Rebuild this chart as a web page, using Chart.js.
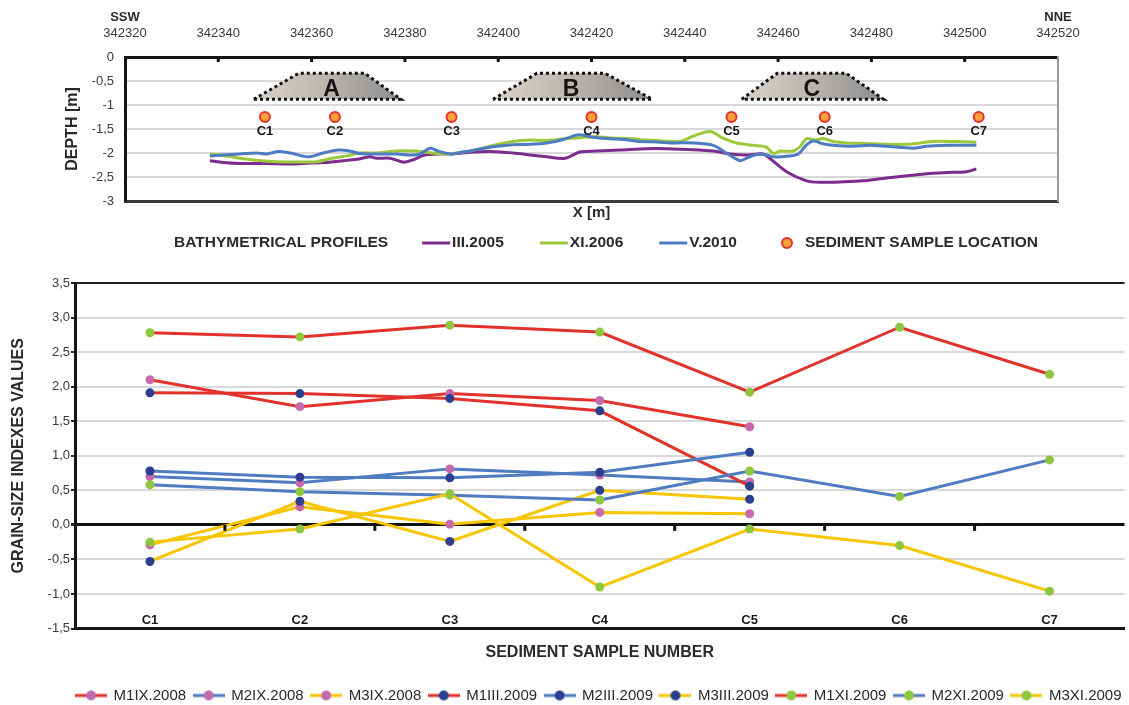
<!DOCTYPE html>
<html>
<head>
<meta charset="utf-8">
<script src="https://cdn.jsdelivr.net/npm/chart.js@4.4.1/dist/chart.umd.min.js"></script>
<style>
  html, body { margin: 0; padding: 0; background: #fff; }
  #wrap { position: relative; width: 1129px; height: 705px; overflow: hidden; }
  #topBox { position: absolute; left: 0; top: 0; width: 1129px; height: 262px; }
  #bottomBox { position: absolute; left: 0; top: 262px; width: 1129px; height: 451px; }
</style>
</head>
<body>
<div id="wrap">
  <div id="topBox"><canvas id="bathy" width="1129" height="262"></canvas></div>
  <div id="bottomBox"><canvas id="grain" width="1129" height="451"></canvas></div>
</div>
<script>
// ---------------- Bathymetrical profiles ----------------
const profileXMin = 342320;
const profileXMax = 342520;
const profileXStep = 20;

const profile2005X = [342338.2, 342341.1, 342344.6, 342350.4, 342355.4, 342359.7, 342362.5, 342366.8, 342369.7, 342372.5, 342373.9, 342376.8, 342379.7, 342381.8, 342384.0, 342387.5, 342391.1, 342394.7, 342398.2, 342403.2, 342406.8, 342410.4, 342414.3, 342417.5, 342421.1, 342426.1, 342431.8, 342436.1, 342441.8, 342446.1, 342449.7, 342453.2, 342456.8, 342458.2, 342461.8, 342466.1, 342468.9, 342474.0, 342478.2, 342483.2, 342488.2, 342493.2, 342497.5, 342500.4, 342502.5];
const profile2005Depth = [-2.16, -2.20, -2.22, -2.22, -2.23, -2.21, -2.20, -2.16, -2.13, -2.08, -2.11, -2.11, -2.19, -2.14, -2.05, -2.02, -2.01, -1.98, -1.97, -2.00, -2.04, -2.08, -2.11, -1.98, -1.96, -1.94, -1.91, -1.91, -1.93, -1.96, -2.02, -2.04, -2.02, -2.11, -2.39, -2.58, -2.61, -2.60, -2.58, -2.52, -2.47, -2.42, -2.40, -2.39, -2.33];

const profile2006X = [342338.2, 342341.1, 342344.6, 342348.2, 342352.5, 342357.5, 342361.1, 342363.9, 342367.5, 342370.4, 342373.9, 342378.2, 342382.5, 342386.0, 342389.0, 342392.5, 342395.4, 342398.2, 342399.7, 342403.2, 342406.8, 342410.4, 342414.7, 342417.5, 342421.1, 342424.7, 342428.2, 342431.8, 342435.4, 342439.0, 342441.8, 342445.4, 342448.2, 342451.1, 342454.7, 342457.5, 342459.0, 342460.4, 342463.2, 342464.7, 342466.1, 342467.9, 342469.7, 342471.8, 342474.7, 342479.0, 342483.2, 342487.5, 342490.4, 342493.2, 342497.5, 342501.8, 342502.5];
const profile2006Depth = [-2.02, -2.05, -2.11, -2.15, -2.18, -2.19, -2.18, -2.12, -2.06, -2.00, -2.00, -1.96, -1.96, -2.00, -2.02, -1.98, -1.93, -1.86, -1.82, -1.76, -1.73, -1.74, -1.70, -1.68, -1.66, -1.69, -1.70, -1.73, -1.75, -1.76, -1.65, -1.55, -1.69, -1.79, -1.84, -1.88, -2.01, -1.96, -1.96, -1.87, -1.70, -1.73, -1.70, -1.76, -1.79, -1.80, -1.82, -1.82, -1.79, -1.76, -1.76, -1.77, -1.78];

const profile2010X = [342338.2, 342341.1, 342344.6, 342348.2, 342350.4, 342352.9, 342355.4, 342359.3, 342362.5, 342365.7, 342368.2, 342370.4, 342373.9, 342378.2, 342381.1, 342383.2, 342385.4, 342387.2, 342389.7, 342392.5, 342395.4, 342398.2, 342399.7, 342403.2, 342406.8, 342410.4, 342414.0, 342417.2, 342419.7, 342423.2, 342426.8, 342430.4, 342434.0, 342437.5, 342441.8, 342446.1, 342448.9, 342451.8, 342453.2, 342455.4, 342457.5, 342459.0, 342461.8, 342464.3, 342466.1, 342467.5, 342469.7, 342471.8, 342476.1, 342479.7, 342483.2, 342488.9, 342491.8, 342496.1, 342499.0, 342502.5];
const profile2010Depth = [-2.06, -2.04, -2.02, -2.00, -2.02, -1.97, -2.00, -2.08, -2.00, -1.94, -1.96, -2.01, -2.02, -2.02, -2.04, -2.02, -1.90, -1.96, -2.02, -1.98, -1.93, -1.88, -1.86, -1.83, -1.82, -1.79, -1.72, -1.62, -1.66, -1.70, -1.72, -1.76, -1.77, -1.79, -1.79, -1.84, -2.00, -2.16, -2.11, -2.03, -2.04, -2.08, -2.07, -2.02, -1.83, -1.75, -1.81, -1.84, -1.86, -1.84, -1.86, -1.90, -1.86, -1.84, -1.84, -1.84];

const sampleNames = ['C1', 'C2', 'C3', 'C4', 'C5', 'C6', 'C7'];
const sampleX = [342350, 342365, 342390, 342420, 342450, 342470, 342503];
const sampleDepth = [-1.25, -1.25, -1.25, -1.25, -1.25, -1.25, -1.25];

const moundNames = ['A', 'B', 'C'];
const moundAX = [342347.6, 342357.2, 342371.4, 342379.1, 342347.6];
const moundBX = [342398.9, 342408.3, 342422.9, 342433.0, 342398.9];
const moundCX = [342452.2, 342459.8, 342474.6, 342482.6, 342452.2];
const moundDepth = [-0.88, -0.34, -0.34, -0.88, -0.88];

// ---------------- Grain-size indexes ----------------
const sampleNumbers = ['C1', 'C2', 'C3', 'C4', 'C5', 'C6', 'C7'];
const m1IX2008 = [2.10, 1.71, 1.90, 1.80, 1.42];
const m2IX2008 = [0.70, 0.61, 0.81, 0.72, 0.62];
const m3IX2008 = [-0.29, 0.26, 0.01, 0.18, 0.16];
const m1III2009 = [1.91, 1.90, 1.83, 1.65, 0.56];
const m2III2009 = [0.78, 0.69, 0.68, 0.76, 1.05];
const m3III2009 = [-0.53, 0.34, -0.24, 0.50, 0.37];
const m1XI2009 = [2.78, 2.72, 2.89, 2.79, 1.92, 2.86, 2.18];
const m2XI2009 = [0.58, 0.48, 0.43, 0.36, 0.78, 0.41, 0.94];
const m3XI2009 = [-0.25, -0.06, 0.45, -0.90, -0.06, -0.30, -0.96];

// ---------------- Shared styling ----------------
const FONT = "'Liberation Sans', Arial, sans-serif";
Chart.defaults.font.family = FONT;
Chart.defaults.color = '#3a3a3a';
Chart.defaults.animation = false;

const C_PURPLE = '#7b2d8b';
const C_LIME = '#9cc83c';
const C_STEEL = '#4d7cc3';
const C_RED = '#e2322d';
const C_BLUE = '#4f7bc1';
const C_YELLOW = '#f7c600';
const M_PINK = '#c46aad';
const M_NAVY = '#2c3f8f';
const M_GREEN = '#8ec63f';
const GRID = '#d9d9d9';

const toPoints = (xs, ys) => xs.map((x, i) => ({ x: x, y: ys[i] }));
const commaNum = v => String(v).replace('.', ',');

function moundFill(context) {
  const chart = context.chart;
  if (!chart.chartArea) return '#b0b0b0';
  const xs = chart.scales.x;
  const data = context.dataset.data;
  const x0 = xs.getPixelForValue(Math.min(...data.map(p => p.x)));
  const x1 = xs.getPixelForValue(Math.max(...data.map(p => p.x)));
  const g = chart.ctx.createLinearGradient(x0, 0, x1, 0);
  g.addColorStop(0, '#d8d2ca');
  g.addColorStop(0.45, '#bdb8b2');
  g.addColorStop(1, '#8e8e8e');
  return g;
}

function moundDataset(name, xs) {
  return {
    label: name,
    data: toPoints(xs, moundDepth),
    borderColor: '#111',
    borderWidth: 3,
    borderDash: [3, 3],
    borderCapStyle: 'butt',
    backgroundColor: moundFill,
    fill: 'shape',
    pointRadius: 0,
    tension: 0,
    order: 5
  };
}

const profileSets = [
  { label: 'III.2005', xs: profile2005X, ys: profile2005Depth, color: C_PURPLE },
  { label: 'XI.2006', xs: profile2006X, ys: profile2006Depth, color: C_LIME },
  { label: 'V.2010', xs: profile2010X, ys: profile2010Depth, color: C_STEEL }
];

const bathyDatasets = profileSets.map((p, i) => ({
  label: p.label,
  data: toPoints(p.xs, p.ys),
  borderColor: p.color,
  backgroundColor: p.color,
  borderWidth: 3,
  pointRadius: 0,
  tension: 0.3,
  fill: false,
  order: 3 - i
}));
bathyDatasets.push(
  moundDataset(moundNames[0], moundAX),
  moundDataset(moundNames[1], moundBX),
  moundDataset(moundNames[2], moundCX)
);
const SAMPLE_INDEX = bathyDatasets.length;
bathyDatasets.push({
  label: 'SEDIMENT SAMPLE LOCATION',
  data: toPoints(sampleX, sampleDepth),
  showLine: false,
  pointRadius: 5,
  pointBackgroundColor: '#f5a23a',
  pointBorderColor: '#e5332a',
  pointBorderWidth: 2,
  order: 0
});

const bathyDecor = {
  id: 'bathyDecor',
  afterDatasetsDraw(chart) {
    const { ctx, scales: { x, y } } = chart;
    ctx.save();
    // mound letters
    ctx.fillStyle = '#141414';
    ctx.textAlign = 'center';
    ctx.textBaseline = 'alphabetic';
    ctx.font = 'bold 23px ' + FONT;
    [moundAX, moundBX, moundCX].forEach((xs, i) => {
      const cx = (xs[1] + xs[2]) / 2;
      ctx.fillText(moundNames[i], x.getPixelForValue(cx), y.getPixelForValue(moundDepth[0]) - 3);
    });
    // sample names under the markers
    ctx.font = 'bold 13px ' + FONT;
    ctx.textBaseline = 'middle';
    chart.getDatasetMeta(SAMPLE_INDEX).data.forEach((pt, i) => {
      ctx.fillText(sampleNames[i], pt.x, pt.y + 14);
    });
    ctx.restore();
  },
  afterDraw(chart) {
    const { ctx, chartArea, scales: { x } } = chart;
    ctx.save();
    // inner tick marks along the top axis
    ctx.strokeStyle = '#111';
    ctx.lineWidth = 3;
    x.ticks.forEach(t => {
      const px = x.getPixelForValue(t.value);
      if (px <= chartArea.left + 2 || px >= chartArea.right - 2) return;
      ctx.beginPath();
      ctx.moveTo(px, chartArea.top);
      ctx.lineTo(px, chartArea.top + 5);
      ctx.stroke();
    });
    // compass directions
    ctx.fillStyle = '#2a2a2a';
    ctx.font = 'bold 13px ' + FONT;
    ctx.textAlign = 'center';
    ctx.textBaseline = 'middle';
    ctx.fillText('SSW', x.getPixelForValue(profileXMin), 17);
    ctx.fillText('NNE', x.getPixelForValue(profileXMax), 17);
    // legend row
    const ly = 243;
    let lx = 174;
    ctx.font = 'bold 15.5px ' + FONT;
    ctx.textAlign = 'left';
    ctx.fillStyle = '#2a2a2a';
    const head = 'BATHYMETRICAL PROFILES';
    ctx.fillText(head, lx, ly);
    lx += ctx.measureText(head).width + 34;
    profileSets.forEach(p => {
      ctx.strokeStyle = p.color;
      ctx.lineWidth = 3;
      ctx.beginPath();
      ctx.moveTo(lx, ly);
      ctx.lineTo(lx + 28, ly);
      ctx.stroke();
      ctx.fillStyle = '#2a2a2a';
      ctx.fillText(p.label, lx + 30, ly);
      lx += 30 + ctx.measureText(p.label).width + 36;
    });
    lx += 14;
    ctx.beginPath();
    ctx.arc(lx, ly, 5, 0, Math.PI * 2);
    ctx.fillStyle = '#f5a23a';
    ctx.fill();
    ctx.strokeStyle = '#e5332a';
    ctx.lineWidth = 2;
    ctx.stroke();
    ctx.fillStyle = '#2a2a2a';
    ctx.fillText('SEDIMENT SAMPLE LOCATION', lx + 18, ly);
    ctx.restore();
  }
};

new Chart(document.getElementById('bathy'), {
  type: 'line',
  data: { datasets: bathyDatasets },
  options: {
    responsive: false,
    animation: false,
    layout: { padding: { left: 0, right: 0, top: 0, bottom: 40 } },
    plugins: { legend: { display: false }, tooltip: { enabled: false } },
    scales: {
      x: {
        type: 'linear', position: 'top',
        min: profileXMin, max: profileXMax,
        ticks: { stepSize: profileXStep, padding: 16, font: { size: 13 }, color: '#3a3a3a', callback: v => String(v) },
        grid: { drawOnChartArea: false, drawTicks: false },
        border: { display: true, color: '#151515', width: 3 },
        afterFit: s => { s.height = 57; }
      },
      x2: {
        type: 'linear', position: 'bottom',
        min: profileXMin, max: profileXMax,
        ticks: { display: false },
        grid: { drawOnChartArea: false, drawTicks: false },
        border: { display: true, color: '#3a3a3a', width: 3 },
        title: { display: true, text: 'X [m]', font: { size: 15, weight: 'bold' }, color: '#2a2a2a', padding: 0 },
        afterFit: s => { s.height = 21; }
      },
      y: {
        type: 'linear', position: 'left',
        min: -3, max: 0,
        ticks: { stepSize: 0.5, padding: 11, font: { size: 13 }, color: '#3a3a3a', callback: v => commaNum(v) },
        grid: { color: GRID, lineWidth: 2, drawTicks: false },
        border: { display: true, color: '#151515', width: 3 },
        title: { display: true, text: 'DEPTH [m]', font: { size: 16, weight: 'bold' }, color: '#2a2a2a', padding: { top: 63, bottom: 0 } },
        afterFit: s => { s.width = 125; }
      },
      y2: {
        type: 'linear', position: 'right',
        ticks: { display: false },
        grid: { drawOnChartArea: false, drawTicks: false },
        border: { display: true, color: '#9a9a9a', width: 2 },
        afterFit: s => { s.width = 71; }
      }
    }
  },
  plugins: [bathyDecor]
});

// ---------------- Grain-size chart ----------------
const grainSeries = [
  { label: 'M1IX.2008', data: m1IX2008, line: C_RED, marker: M_PINK },
  { label: 'M2IX.2008', data: m2IX2008, line: C_BLUE, marker: M_PINK },
  { label: 'M3IX.2008', data: m3IX2008, line: C_YELLOW, marker: M_PINK },
  { label: 'M1III.2009', data: m1III2009, line: C_RED, marker: M_NAVY },
  { label: 'M2III.2009', data: m2III2009, line: C_BLUE, marker: M_NAVY },
  { label: 'M3III.2009', data: m3III2009, line: C_YELLOW, marker: M_NAVY },
  { label: 'M1XI.2009', data: m1XI2009, line: C_RED, marker: M_GREEN },
  { label: 'M2XI.2009', data: m2XI2009, line: C_BLUE, marker: M_GREEN },
  { label: 'M3XI.2009', data: m3XI2009, line: C_YELLOW, marker: M_GREEN }
];

function legendIcon(line, marker) {
  const c = document.createElement('canvas');
  c.width = 32; c.height = 12;
  const g = c.getContext('2d');
  g.strokeStyle = line; g.lineWidth = 3;
  g.beginPath(); g.moveTo(0, 6); g.lineTo(32, 6); g.stroke();
  g.fillStyle = marker;
  g.beginPath(); g.arc(16, 6, 5, 0, Math.PI * 2); g.fill();
  return c;
}
const legendIcons = grainSeries.map(s => legendIcon(s.line, s.marker));

const zeroTicks = {
  id: 'zeroTicks',
  afterDatasetsDraw(chart) {
    const { ctx, scales: { x, y } } = chart;
    const y0 = y.getPixelForValue(0);
    ctx.save();
    ctx.strokeStyle = '#111';
    ctx.lineWidth = 3;
    for (let i = 1; i < x.ticks.length; i++) {
      const px = (x.getPixelForTick(i - 1) + x.getPixelForTick(i)) / 2;
      ctx.beginPath();
      ctx.moveTo(px, y0);
      ctx.lineTo(px, y0 + 6);
      ctx.stroke();
    }
    ctx.restore();
  }
};

new Chart(document.getElementById('grain'), {
  type: 'line',
  data: {
    labels: sampleNumbers,
    datasets: grainSeries.map((s, i) => ({
      label: s.label,
      data: s.data,
      borderColor: s.line,
      backgroundColor: s.marker,
      borderWidth: 3,
      pointRadius: 4.5,
      pointBackgroundColor: s.marker,
      pointBorderColor: s.marker,
      pointBorderWidth: 0,
      tension: 0,
      fill: false,
      order: grainSeries.length - i
    }))
  },
  options: {
    responsive: false,
    animation: false,
    layout: { padding: { left: 0, right: 0, top: 21, bottom: 0 } },
    plugins: {
      tooltip: { enabled: false },
      legend: {
        position: 'bottom',
        align: 'end',
        labels: {
          usePointStyle: true,
          pointStyleWidth: 30,
          padding: 7.5,
          color: '#2a2a2a',
          font: { size: 15 },
          sort: (a, b) => a.datasetIndex - b.datasetIndex,
          generateLabels: chart => Chart.defaults.plugins.legend.labels.generateLabels(chart)
            .map(item => Object.assign(item, { pointStyle: legendIcons[item.datasetIndex] }))
        }
      }
    },
    scales: {
      x: {
        type: 'category',
        offset: true,
        grid: { drawOnChartArea: false, drawTicks: false },
        border: { display: true, color: '#151515', width: 3 },
        ticks: { mirror: true, padding: 0, font: { size: 13, weight: 'bold' }, color: '#1a1a1a' },
        title: { display: true, text: 'SEDIMENT SAMPLE NUMBER', font: { size: 16, weight: 'bold' }, color: '#2a2a2a', padding: { top: 0, bottom: 18 } },
        afterFit: s => { s.height = 52; }
      },
      y: {
        min: -1.5, max: 3.5,
        ticks: { stepSize: 0.5, padding: 1, font: { size: 13 }, color: '#3a3a3a', callback: v => v.toFixed(1).replace('.', ',') },
        grid: {
          color: c => (c.tick && c.tick.value === 0) ? '#111' : (c.tick && c.tick.value === 3.5 ? '#222' : GRID),
          lineWidth: c => (c.tick && c.tick.value === 0) ? 3 : 2,
          tickLength: 4,
          tickColor: '#222'
        },
        border: { display: true, color: '#151515', width: 3 },
        title: { display: true, text: 'GRAIN-SIZE INDEXES VALUES', font: { size: 16, weight: 'bold' }, color: '#2a2a2a', padding: { top: 9, bottom: 0 } },
        afterFit: s => { s.width = 75; }
      }
    }
  },
  plugins: [zeroTicks]
});
</script>
</body>
</html>
